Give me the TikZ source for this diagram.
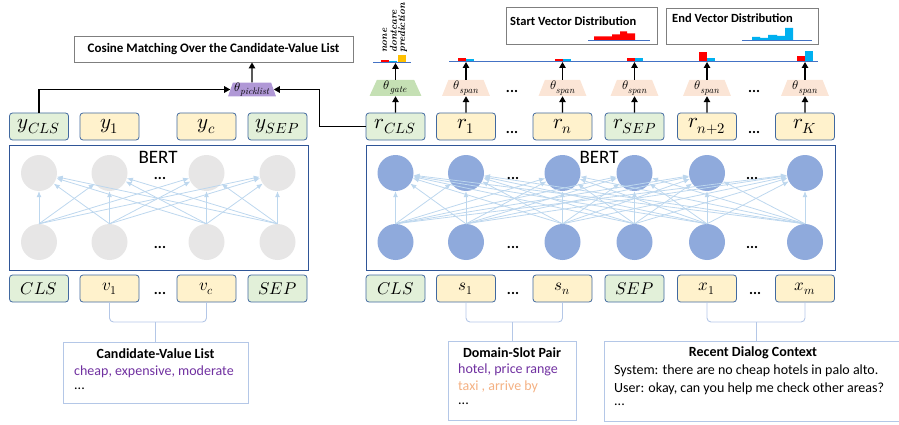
\documentclass[tikz,border=0pt]{standalone}
\usepackage{fontspec}
\usepackage{unicode-math}
\usepackage{tikz}
\usetikzlibrary{shapes.geometric,arrows.meta}
\newfontfamily\carlito{Carlito}
\newcommand{\thetasub}[1]{$\theta_{\mbox{\fontsize{9.5}{9.5}\selectfont\itshape #1}}$}
\definecolor{boxblue}{RGB}{65,105,160}
\definecolor{bertblue}{RGB}{47,85,151}
\definecolor{clsgreen}{RGB}{226,240,217}
\definecolor{tokyellow}{RGB}{255,242,204}
\definecolor{gatefill}{RGB}{197,224,180}
\definecolor{spanfill}{RGB}{251,229,214}
\definecolor{pickfill}{RGB}{176,152,214}
\definecolor{nodegray}{RGB}{231,230,230}
\definecolor{nodeblue}{RGB}{143,170,220}
\definecolor{linkblue}{RGB}{189,215,238}
\definecolor{braceblue}{RGB}{180,199,231}
\definecolor{distblue}{RGB}{68,114,196}
\definecolor{barred}{RGB}{255,0,0}
\definecolor{barblue}{RGB}{0,176,240}
\definecolor{barorange}{RGB}{255,192,0}
\definecolor{txtpurple}{RGB}{112,48,160}
\definecolor{txtorange}{RGB}{244,177,131}
\definecolor{framegray}{RGB}{127,127,127}

\begin{document}
\begin{tikzpicture}[x=1pt, y=-1pt,
    cell/.style={draw=boxblue, line width=0.8pt, rounded corners=3pt, minimum width=59pt, minimum height=27pt, inner sep=0pt},
    clscell/.style={cell, fill=clsgreen},
    tokcell/.style={cell, fill=tokyellow},
    toprow/.style={font=\fontsize{21}{21}\selectfont},
    botrow/.style={font=\fontsize{17}{17}\selectfont},
    thetahead/.style={trapezium, trapezium angle=72, trapezium stretches=true, minimum width=48pt, minimum height=16pt, inner sep=0pt, font=\fontsize{12.5}{12.5}\selectfont},
    neuron/.style={circle, minimum size=36pt, inner sep=0pt},
    bertlink/.style={draw=linkblue, line width=0.8pt, -{Latex[length=6pt,width=5pt]}},
    arr/.style={line width=1.2pt, -{Triangle[length=6pt,width=6.5pt]}},
    bracket/.style={draw=braceblue, line width=0.9pt, rounded corners=4pt},
    framed/.style={draw=braceblue, line width=0.9pt, inner sep=0pt},
    graybox/.style={draw=framegray, line width=0.9pt, inner sep=0pt},
    ellip/.style={font=\carlito\bfseries\fontsize{15}{15}\selectfont, inner sep=0pt},
    txt/.style={font=\carlito\fontsize{14}{14}\selectfont, inner sep=0pt},
    titletxt/.style={font=\carlito\bfseries\fontsize{14}{14}\selectfont, inner sep=0pt},
    disttitle/.style={font=\carlito\bfseries\fontsize{12.5}{12.5}\selectfont, inner sep=0pt},
    votelabel/.style={rotate=90, anchor=west, inner sep=0pt, font=\bfseries\itshape\fontsize{10}{10}\selectfont}
  ]
    \useasboundingbox (0,0) rectangle (899,425);

    \draw[bertblue, line width=1pt] (9,145) rectangle (308,270);
    \draw[bertblue, line width=1pt] (366,145) rectangle (835,270);
    \node[font=\carlito\fontsize{19}{19}\selectfont, inner sep=0pt] (bertL) at (158,157) {BERT};
    \node[font=\carlito\fontsize{19}{19}\selectfont, inner sep=0pt] (bertR) at (599,157) {BERT};

    \foreach \x [count=\i] in {39,109.5,206.5,277.5} {
        \node[neuron, fill=nodegray] (lt\i) at (\x,173) {};
        \node[neuron, fill=nodegray] (lb\i) at (\x,242) {};
    }
    \foreach \i in {1,...,4}
        \foreach \j in {1,...,4}
            \draw[bertlink] (lb\i.north) -- (lt\j);
    \node[ellip] (ldotsT) at (160,178) {...};
    \node[ellip] (ldotsB) at (160,247) {...};

    \foreach \x [count=\i] in {395.5,466,562.5,634.5,707,805} {
        \node[neuron, fill=nodeblue] (rt\i) at (\x,173) {};
        \node[neuron, fill=nodeblue] (rb\i) at (\x,242) {};
    }
    \foreach \i in {1,...,6}
        \foreach \j in {1,...,6}
            \draw[bertlink] (rb\i.north) -- (rt\j);
    \node[ellip] (rdotsT1) at (513,178) {...};
    \node[ellip] (rdotsB1) at (513,247) {...};
    \node[ellip] (rdotsT2) at (752,178) {...};
    \node[ellip] (rdotsB2) at (752,247) {...};

    \node[clscell, toprow] (yCLS) at (39,126.5) {$y_{CLS}$};
    \node[tokcell, toprow] (y1) at (109.5,126.5) {$y_1$};
    \node[tokcell, toprow] (yc) at (206.5,126.5) {$y_c$};
    \node[clscell, toprow] (ySEP) at (277.5,126.5) {$y_{SEP}$};

    \node[clscell, toprow] (rCLS) at (395.5,126.5) {$r_{CLS}$};
    \node[tokcell, toprow] (r1) at (466,126.5) {$r_1$};
    \node[ellip] (rdots1) at (512,132) {...};
    \node[tokcell, toprow] (rn) at (562.5,126.5) {$r_n$};
    \node[clscell, toprow] (rSEP) at (634.5,126.5) {$r_{SEP}$};
    \node[tokcell, toprow] (rn2) at (707,126.5) {$r_{n+2}$};
    \node[ellip] (rdots2) at (754,132) {...};
    \node[tokcell, toprow] (rK) at (805,126.5) {$r_K$};

    \node[clscell, botrow] (vCLS) at (39,288.5) {$CLS$};
    \node[tokcell, botrow] (v1) at (109.5,288.5) {$v_1$};
    \node[ellip] (vdots) at (160,293) {...};
    \node[tokcell, botrow] (vc) at (206.5,288.5) {$v_c$};
    \node[clscell, botrow] (vSEP) at (277.5,288.5) {$SEP$};

    \node[clscell, botrow] (sCLS) at (395.5,288.5) {$CLS$};
    \node[tokcell, botrow] (s1) at (466,288.5) {$s_1$};
    \node[ellip] (sdots) at (513,293) {...};
    \node[tokcell, botrow] (sn) at (562.5,288.5) {$s_n$};
    \node[clscell, botrow] (sSEP) at (634.5,288.5) {$SEP$};
    \node[tokcell, botrow] (x1) at (707,288.5) {$x_1$};
    \node[ellip] (xdots) at (755,293) {...};
    \node[tokcell, botrow] (xm) at (805,288.5) {$x_m$};

    \node[graybox, minimum width=279pt, minimum height=26pt, font=\carlito\bfseries\fontsize{13}{13}\selectfont] (cosine) at (213.5,49) {Cosine Matching Over the Candidate-Value List};
    \node[thetahead, fill=pickfill, minimum height=13pt] (tpick) at (252,89.5) {\thetasub{picklist}};
    \draw[arr] (tpick) -- (cosine.south -| tpick);
    \draw[arr] (yCLS.north) |- (tpick.west);
    \draw[arr] (rCLS.west) -- ++(-46,0) |- (tpick.east);

    \coordinate (gateL) at (373,63);
    \coordinate (gateR) at (411,63);
    \fill[barred] (381,63) rectangle (389,60);
    \fill[barblue] (389,63) rectangle (397,61);
    \fill[barorange] (398,63) rectangle (406,55);
    \draw[distblue, line width=1pt] (gateL) -- (gateR);
    \node[votelabel] (lnone) at (385,53) {none};
    \node[votelabel] (ldontcare) at (393.5,53) {dontcare};
    \node[votelabel] (lprediction) at (402.5,53) {prediction};
    \node[thetahead, fill=gatefill, minimum width=52pt] (tgate) at (395.5,88) {\thetasub{gate}};
    \draw[arr] (rCLS) -- (tgate);
    \draw[arr] (tgate) -- (tgate |- gateL);

    \coordinate (spanL) at (449,62);
    \coordinate (spanR) at (818,62);
    \foreach \x/\a/\b in {466/4/3, 562.5/3/3, 634.5/4/4, 707/10/4, 805/6/11} {
        \fill[barred] (\x-8,62) rectangle (\x,62-\a);
        \fill[barblue] (\x,62) rectangle (\x+8,62-\b);
    }
    \draw[distblue, line width=1pt] (spanL) -- (spanR);
    \foreach \n/\x in {r1/466, rn/562.5, rSEP/634.5, rn2/707, rK/805} {
        \node[thetahead, fill=spanfill] (t\n) at (\x,88) {\thetasub{span}};
        \draw[arr] (\n) -- (t\n);
        \draw[arr] (t\n) -- (t\n |- spanL);
    }
    \node[ellip] (tdots1) at (512,91) {...};
    \node[ellip] (tdots2) at (754,91) {...};

    \node[graybox, minimum width=151pt, minimum height=37pt] (startbox) at (581.5,25.5) {};
    \node[disttitle, anchor=west] (starttitle) at (510,21) {Start Vector Distribution};
    \fill[barred] (594,40) rectangle (612,36.5) (612,40) rectangle (620,34.5)
        (620,40) rectangle (627,31.5) (627,40) rectangle (635,33.5);
    \draw[distblue, line width=0.8pt] (588,40) -- (650,40);

    \node[graybox, minimum width=152pt, minimum height=36pt] (endbox) at (742,26.5) {};
    \node[disttitle, anchor=west] (endtitle) at (672,18) {End Vector Distribution};
    \fill[barblue] (752,40) rectangle (760,37) (760,40) rectangle (768,38)
        (768,40) rectangle (777,35) (777,40) rectangle (785,36) (785,40) rectangle (793,28);
    \draw[distblue, line width=0.8pt] (742,40) -- (812,40);

    \node[framed, minimum width=185pt, minimum height=61pt] (cand) at (155.5,372.5) {};
    \node[titletxt] (candT) at (155.5,354) {Candidate-Value List};
    \node[txt, anchor=west, text=txtpurple] (candA) at (74,372) {cheap, expensive, moderate};
    \node[txt, anchor=west] (candB) at (74,389) {...};
    \coordinate (jv) at (155.5,322);
    \draw[bracket] (v1.south) |- (jv) -| (vc.south);
    \draw[bracket] (jv) -- (cand.north);

    \node[framed, minimum width=128pt, minimum height=79pt] (dom) at (512,380.5) {};
    \node[titletxt] (domT) at (512,353) {Domain-Slot Pair};
    \node[txt, anchor=west, text=txtpurple] (domA) at (458,370) {hotel, price range};
    \node[txt, anchor=west, text=txtorange] (domB) at (458,387) {taxi , arrive by};
    \node[txt, anchor=west] (domC) at (458,404) {...};
    \coordinate (js) at (512,322);
    \draw[bracket] (s1.south) |- (js) -| (sn.south);
    \draw[bracket] (js) -- (dom.north);

    \node[framed, minimum width=298pt, minimum height=80pt] (ctx) at (753,381) {};
    \node[titletxt] (ctxT) at (753,353) {Recent Dialog Context};
    \node[txt, anchor=west] (ctxA) at (614,371) {System: there are no cheap hotels in palo alto.};
    \node[txt, anchor=west] (ctxB) at (614,389) {User: okay, can you help me check other areas?};
    \node[txt, anchor=west] (ctxC) at (614,405) {...};
    \coordinate (jx) at (756,322);
    \draw[bracket] (x1.south) |- (jx) -| (xm.south);
    \draw[bracket] (jx) -- (jx |- ctx.north);
  \end{tikzpicture}
\end{document}
